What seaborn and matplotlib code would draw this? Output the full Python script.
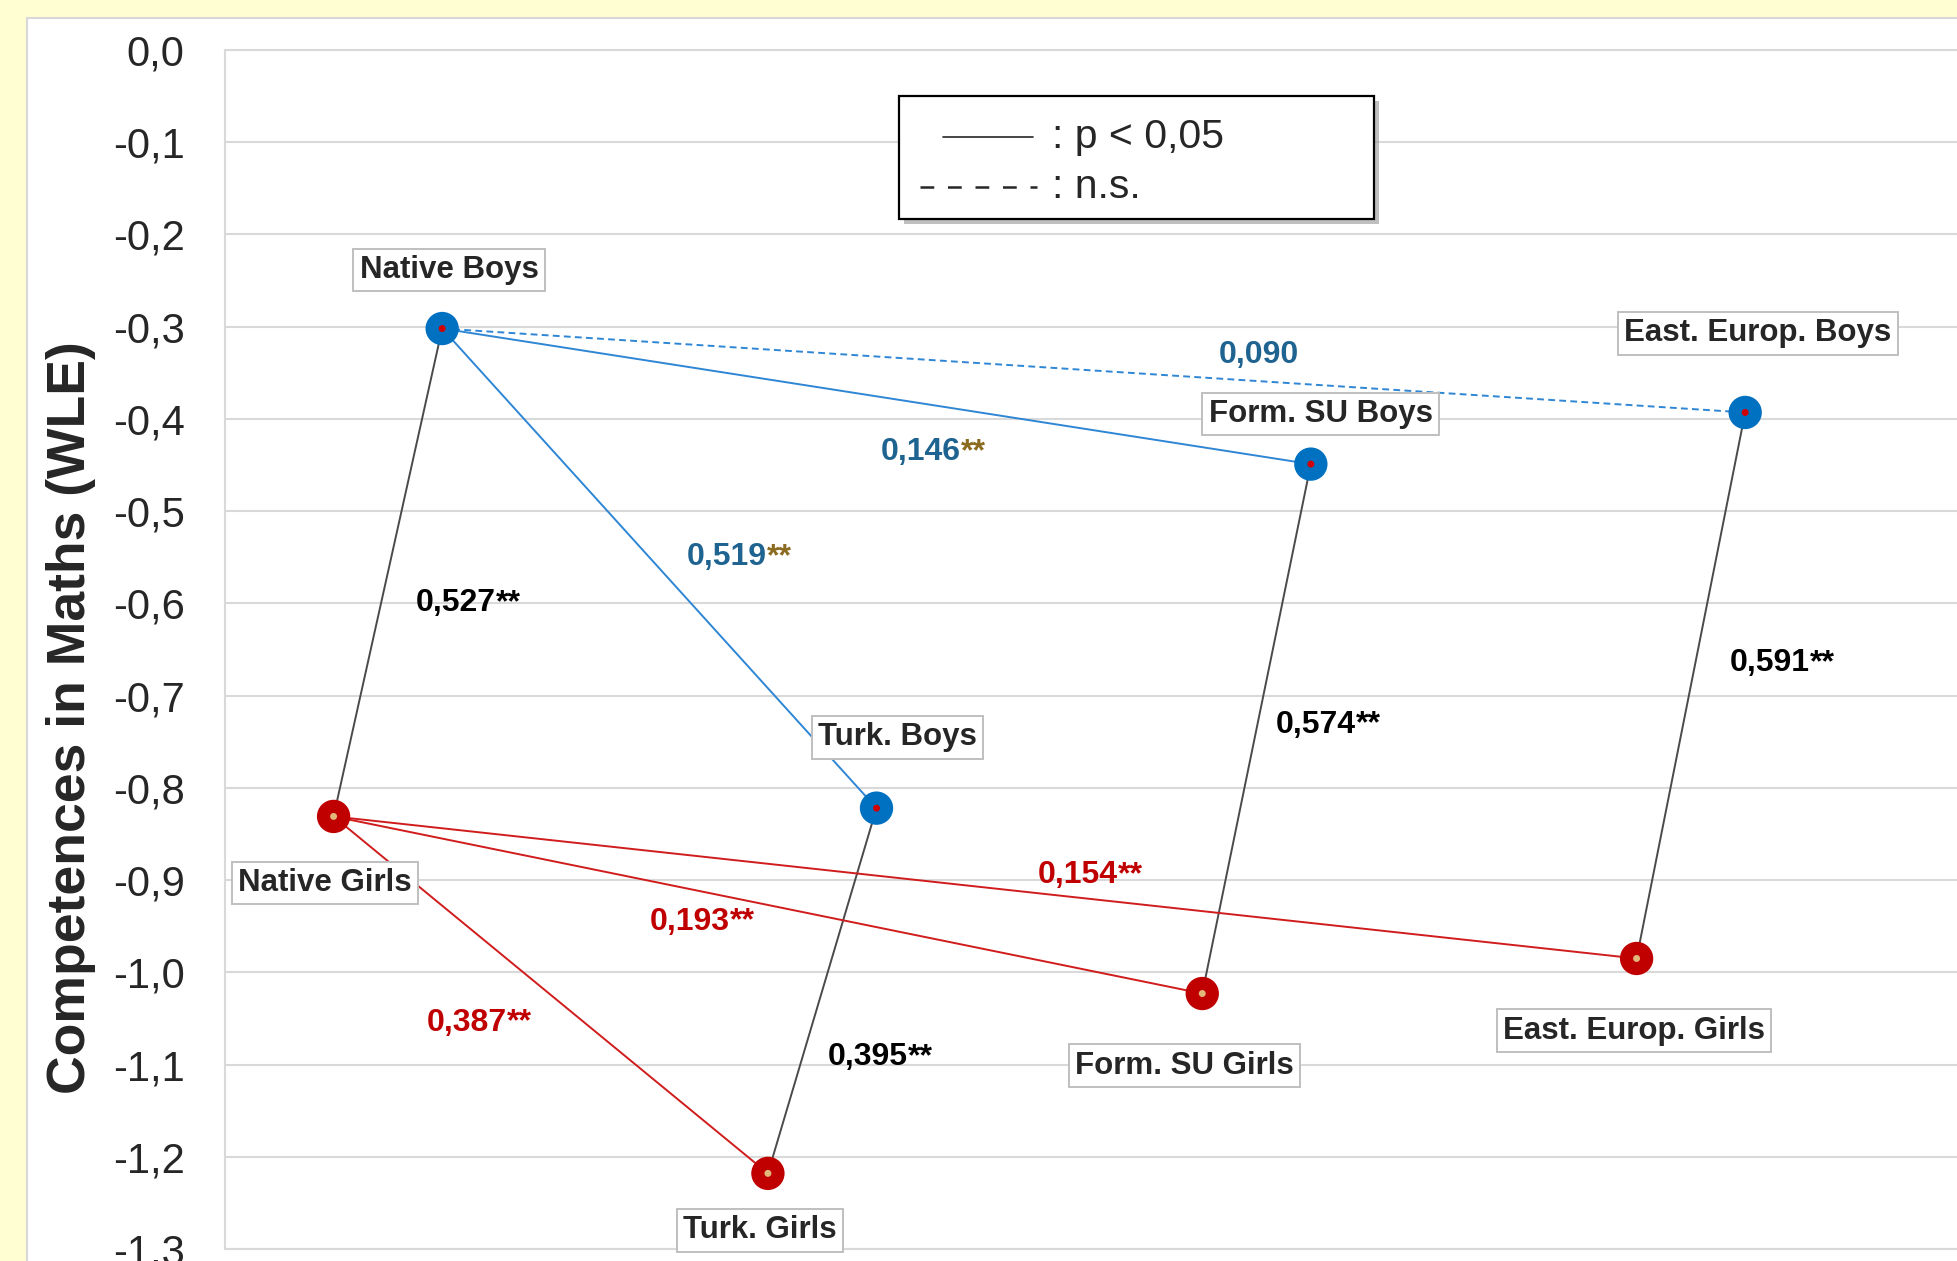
import numpy as np
import pandas as pd
import matplotlib.pyplot as plt
import seaborn as sns
from matplotlib.patches import Rectangle
from matplotlib.ticker import FuncFormatter

# data
groups = ['Native', 'Turk.', 'Form. SU', 'East. Europ.']
boys_wle = [-0.302, -0.822, -0.449, -0.393]
girls_wle = [-0.831, -1.218, -1.023, -0.985]

# effect sizes: boys vs girls within each group
gender_coef = [0.527, 0.395, 0.574, 0.591]
gender_sig = [True, True, True, True]
# migrant groups vs natives (Turk., Form. SU, East. Europ.)
boys_coef = [0.519, 0.146, 0.090]
boys_sig = [True, True, False]
girls_coef = [0.387, 0.193, 0.154]
girls_sig = [True, True, True]

# label offsets (points): point names, then coefficient labels
name_off_boys = [(5, 42), (15, 51), (7, 36), (9, 57)]
name_off_girls = [(-6, -48), (-6, -41), (-13, -52), (-2, -52)]
gender_off = [(20, -22), (4, -48), (14, 3), (28, 16)]
boys_off = [(20, 8), (3, -40), (90, 11)]
girls_off = [(-89, -20), (-85, -12), (38, 9)]

BLUE, RED, GREY = '#0070C0', '#C00000', '#4A4A4A'

sns.set_style('white')
plt.rcParams['font.family'] = ['Liberation Sans', 'DejaVu Sans']

fig = plt.figure(figsize=(19.58, 12.61), dpi=100)
fig.patch.set_facecolor('#FFFDD2')
fig.patches.append(Rectangle((27 / 1958, -0.01), 1.0, 1.01 - 18 / 1261,
                             transform=fig.transFigure, facecolor='white',
                             edgecolor='#D8D8D8', lw=1.5, zorder=-10))
ax = fig.add_axes([225 / 1958, 12 / 1261, 1 - 225 / 1958, 1199 / 1261])
ax.set_zorder(1)
ax.set_facecolor('white')

# x positions: girls a quarter, boys half a unit into each group slot
xb = [i + 0.5 for i in range(len(groups))]
xg = [i + 0.25 for i in range(len(groups))]

pts = pd.DataFrame({
    'x': xb + xg,
    'wle': boys_wle + girls_wle,
    'gender': ['Boys'] * 4 + ['Girls'] * 4,
})

segs = []
sid = 0
for i in range(4):
    segs.append((sid, xb[i], boys_wle[i], 'gap', gender_sig[i]))
    segs.append((sid, xg[i], girls_wle[i], 'gap', gender_sig[i]))
    sid += 1
for i in range(1, 4):
    segs.append((sid, xb[0], boys_wle[0], 'boys', boys_sig[i - 1]))
    segs.append((sid, xb[i], boys_wle[i], 'boys', boys_sig[i - 1]))
    sid += 1
    segs.append((sid, xg[0], girls_wle[0], 'girls', girls_sig[i - 1]))
    segs.append((sid, xg[i], girls_wle[i], 'girls', girls_sig[i - 1]))
    sid += 1
seg_df = pd.DataFrame(segs, columns=['seg', 'x', 'wle', 'kind', 'sig'])

sns.lineplot(data=seg_df, x='x', y='wle', units='seg', estimator=None,
             hue='kind', style='sig', sort=False, linewidth=1.4,
             palette={'gap': GREY, 'boys': '#2E86D4', 'girls': '#D01C1C'},
             dashes={True: '', False: (3.5, 2.2)}, legend=False, ax=ax, zorder=3)

sns.scatterplot(data=pts, x='x', y='wle', hue='gender', s=24 ** 2,
                palette={'Boys': BLUE, 'Girls': RED}, edgecolor='none',
                legend=False, ax=ax, zorder=5)
sns.scatterplot(data=pts, x='x', y='wle', hue='gender', s=5 ** 2,
                palette={'Boys': '#D00000', 'Girls': '#E2B77A'}, edgecolor='none',
                legend=False, ax=ax, zorder=6)

box = dict(boxstyle='square,pad=0.2', fc='white', ec='#BFBFBF', lw=1.4)
for i, g in enumerate(groups):
    ax.annotate(g + ' Boys', (xb[i], boys_wle[i]), xytext=name_off_boys[i],
                textcoords='offset points', ha='center', va='center',
                fontsize=22.5, fontweight='bold', color='#262626', bbox=box, zorder=7)
    ax.annotate(g + ' Girls', (xg[i], girls_wle[i]), xytext=name_off_girls[i],
                textcoords='offset points', ha='center', va='center',
                fontsize=22.5, fontweight='bold', color='#262626', bbox=box, zorder=7)


def fmt(v):
    return f'{v:.3f}'.replace('.', ',')


def coef_label(p, q, v, sig, off, col, star_col):
    mid = ((p[0] + q[0]) / 2, (p[1] + q[1]) / 2)
    t = ax.annotate(fmt(v), mid, xytext=off, textcoords='offset points',
                    ha='left', va='center', fontsize=23, fontweight='bold',
                    color=col, zorder=8)
    if sig:
        ax.annotate('**', (1, 0.5), xycoords=t, ha='left', va='center',
                    fontsize=23, fontweight='bold', color=star_col, zorder=8)


for i in range(4):
    coef_label((xb[i], boys_wle[i]), (xg[i], girls_wle[i]), gender_coef[i],
               gender_sig[i], gender_off[i], 'black', 'black')
for i in range(1, 4):
    coef_label((xb[0], boys_wle[0]), (xb[i], boys_wle[i]), boys_coef[i - 1],
               boys_sig[i - 1], boys_off[i - 1], '#1F6391', '#8B6B1F')
    coef_label((xg[0], girls_wle[0]), (xg[i], girls_wle[i]), girls_coef[i - 1],
               girls_sig[i - 1], girls_off[i - 1], RED, RED)

# axes styling
ax.set_xlim(0, 3.99)
ax.set_ylim(-1.3, 0.0)
ax.set_yticks(np.round(np.arange(-1.3, 0.01, 0.1), 1))
ax.yaxis.set_major_formatter(FuncFormatter(
    lambda v, _: ('0,0' if abs(v) < 1e-9 else f'{v:.1f}'.replace('.', ','))))
ax.set_xticks([])
ax.set_xlabel('')
ax.tick_params(axis='y', length=0, pad=29, labelsize=30, labelcolor='#262626')
ax.grid(axis='y', color='#D9D9D9', lw=1.5)
for side in ['left', 'bottom', 'top']:
    ax.spines[side].set_color('#D9D9D9')
    ax.spines[side].set_linewidth(1.5)
ax.spines['right'].set_visible(False)
ax.set_ylabel('Competences in Maths (WLE)', fontsize=38.5, fontweight='bold',
              color='#262626')
ax.yaxis.set_label_coords(-0.0744, 0.443)


# legend drawn as a text box, the way the original slide has it
def axfrac(px, py):
    return (px - 225) / 1733, (1249 - py) / 1199


x0, y0 = axfrac(899, 219)
x1, y1 = axfrac(1374, 96)
ax.add_patch(Rectangle((x0 + 5 / 1733, y0 - 5 / 1199), x1 - x0, y1 - y0,
                       transform=ax.transAxes, fc='#8C8C8C', ec='none',
                       alpha=0.55, zorder=9, clip_on=False))
ax.add_patch(Rectangle((x0, y0), x1 - x0, y1 - y0, transform=ax.transAxes,
                       fc='white', ec='black', lw=1.6, zorder=10, clip_on=False))
for (lx0, lx1, ly), ls, lw, label in [((943, 1033, 137), '-', 1.2, ': p < 0,05'),
                                       ((920, 1037, 187), (0, (5.5, 5.5)), 1.8, ': n.s.')]:
    a, b = axfrac(lx0, ly)
    c, _ = axfrac(lx1, ly)
    ax.plot([a, c], [b, b], transform=ax.transAxes, color='#262626', lw=lw,
            ls=ls, zorder=11, clip_on=False)
    tx, _ = axfrac(1052, ly)
    ax.text(tx, b, label, transform=ax.transAxes, fontsize=29.5, color='#262626',
            ha='left', va='center', zorder=11)

fig.savefig('out.png', dpi=100)
